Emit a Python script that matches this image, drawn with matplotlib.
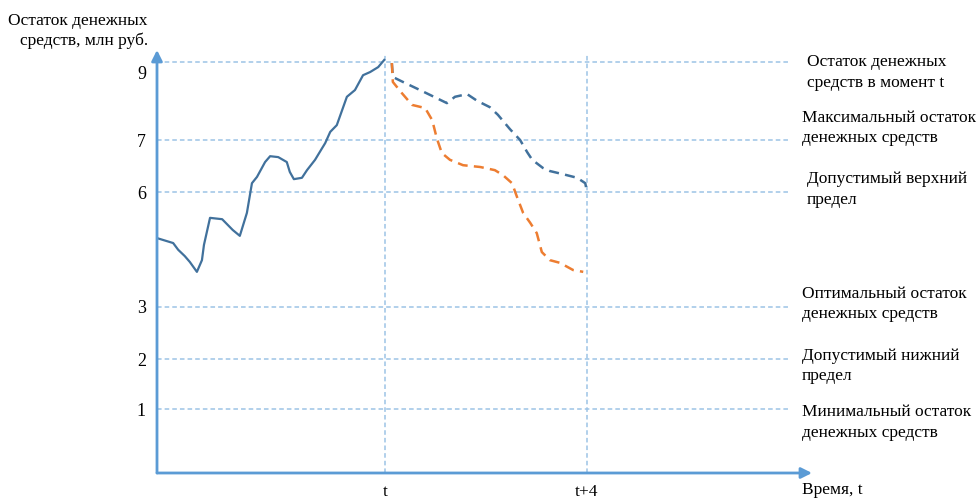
import matplotlib.pyplot as plt
from matplotlib.transforms import ScaledTranslation

plt.rcParams['font.family'] = ['Liberation Serif', 'DejaVu Serif']

# Schematic units: x in time steps (t = 4.5), y in schematic height units
level_pos = [1.42, 2.53, 3.69, 6.24, 7.40, 9.13]
level_labels = ['1', '2', '3', '6', '7', '9']
level_names = [
    "Минимальный остаток\nденежных средств",
    "Допустимый нижний\nпредел",
    "Оптимальный остаток\nденежных средств",
    "Допустимый верхний\nпредел",
    "Максимальный остаток\nденежных средств",
    "Остаток денежных\nсредств в момент t",
]
name_x = [12.77, 12.77, 12.77, 12.87, 12.77, 12.87]
name_y = [1.12, 2.38, 3.76, 6.30, 7.66, 8.90]

time_ticks = [4.51, 8.51]
time_labels = ['t', 't+4']

hist_x = [0.00, 0.32, 0.42, 0.55, 0.65, 0.79, 0.89, 0.93, 1.05, 1.29, 1.50, 1.64,
          1.78, 1.88, 1.98, 2.14, 2.24, 2.40, 2.57, 2.63, 2.71, 2.87, 2.97, 3.13,
          3.27, 3.33, 3.43, 3.56, 3.76, 3.92, 4.08, 4.22, 4.38, 4.50]
hist_y = [5.22, 5.11, 4.96, 4.82, 4.69, 4.47, 4.73, 5.07, 5.67, 5.64, 5.40, 5.27,
          5.78, 6.44, 6.58, 6.91, 7.04, 7.02, 6.91, 6.69, 6.53, 6.56, 6.73, 6.96,
          7.22, 7.33, 7.58, 7.73, 8.36, 8.51, 8.84, 8.91, 9.02, 9.18]

blue_x = [4.65, 4.67, 4.87, 5.17, 5.41, 5.74, 5.90, 6.14, 6.34, 6.59, 6.75, 6.99,
          7.19, 7.33, 7.43, 7.64, 7.78, 8.04, 8.32, 8.48, 8.50]
blue_y = [9.11, 8.80, 8.69, 8.53, 8.40, 8.22, 8.36, 8.42, 8.27, 8.13, 7.96, 7.64,
          7.40, 7.13, 6.96, 6.78, 6.71, 6.64, 6.56, 6.44, 6.33]

orange_x = [4.65, 4.67, 4.85, 5.05, 5.31, 5.45, 5.54, 5.64, 5.80, 6.06, 6.40, 6.69,
            6.85, 7.03, 7.13, 7.25, 7.39, 7.52, 7.62, 7.78, 7.98, 8.24, 8.44]
orange_y = [9.11, 8.69, 8.44, 8.18, 8.11, 7.84, 7.44, 7.11, 6.96, 6.84, 6.80, 6.73,
            6.62, 6.44, 6.13, 5.78, 5.56, 5.33, 4.91, 4.73, 4.67, 4.51, 4.47]

axis_color = '#5B9BD5'
grid_color = '#9DC3E6'
line_color = '#41719C'
orange = '#ED7D31'
fs = 12.5

fig = plt.figure(figsize=(9.79, 4.99), dpi=100)
ax = fig.add_axes([157 / 979, 26 / 499, 655 / 979, 423 / 499])
ax.set_xlim(0, 12.97)
ax.set_ylim(0, 9.4)
for s in ax.spines.values():
    s.set_visible(False)

# reference levels and time markers
ax.hlines(level_pos, 0, 12.5, colors=grid_color, linewidth=1.1, linestyles=(0, (3, 2)))
ax.vlines(time_ticks, 0, 9.29, colors=grid_color, linewidth=1.1, linestyles=(0, (3, 2)))

# cash balance: history and two forecasts
ax.plot(hist_x, hist_y, color=line_color, linewidth=1.6)
ax.plot(blue_x, blue_y, color=line_color, linewidth=1.8, dashes=(4, 2.5))
ax.plot(orange_x, orange_y, color=orange, linewidth=1.8, dashes=(4, 2.5))

# axes with arrows
arrow = dict(arrowstyle='-|>', color=axis_color, lw=2, mutation_scale=16,
             shrinkA=0, shrinkB=0)
ax.annotate('', xy=(0, 1), xytext=(0, 0), xycoords='axes fraction', arrowprops=arrow)
ax.annotate('', xy=(1, 0), xytext=(0, 0), xycoords='axes fraction', arrowprops=arrow)

ax.set_yticks(level_pos, level_labels, fontsize=fs + 0.5)
ax.set_xticks(time_ticks, time_labels, fontsize=fs)
ax.tick_params(axis='y', length=0, pad=8)
ax.tick_params(axis='x', length=0, pad=8)
# the top label sits a bit below its line
top_lab = ax.get_yticklabels()[-1]
top_lab.set_transform(top_lab.get_transform() + ScaledTranslation(0, -10 / 100, fig.dpi_scale_trans))

for x, y, name in zip(name_x, name_y, level_names):
    ax.text(x, y, name, fontsize=fs, ha='left', va='center', linespacing=1.35,
            clip_on=False)

fig.text(148 / 979, 1 - 31 / 499, "Остаток денежных\nсредств, млн руб.", fontsize=fs,
         ha='right', va='center', multialignment='right', linespacing=1.35)
fig.text(802 / 979, 1 - 490 / 499, "Время, t", fontsize=fs, ha='left', va='center')

fig.savefig('out.png', dpi=100)
